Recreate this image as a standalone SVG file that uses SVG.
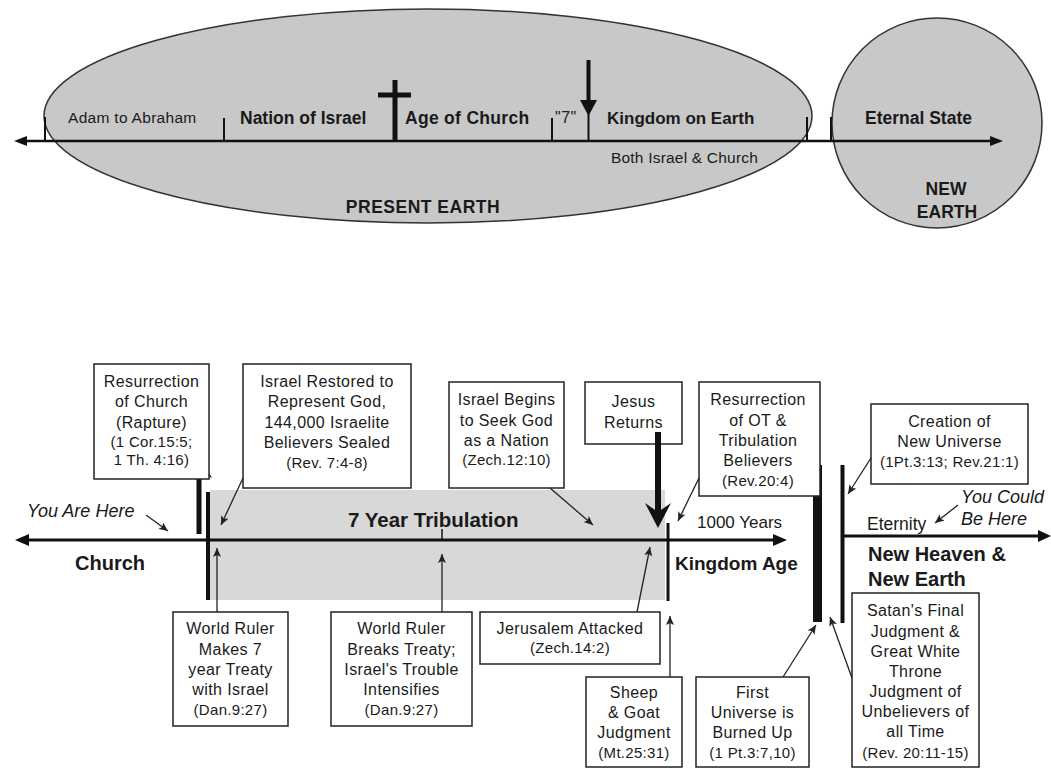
<svg xmlns="http://www.w3.org/2000/svg" width="1051" height="769" viewBox="0 0 1051 769">
<style>
text{font-family:"Liberation Sans",Arial,sans-serif;fill:#1a1a1a}
.b{font-weight:bold}
.box{fill:#fff;stroke:#222;stroke-width:1.5}
.t{font-size:16px;letter-spacing:0.4px;text-anchor:middle}
.r{font-size:15px;letter-spacing:0.3px;text-anchor:middle}
.ptr{stroke:#222;stroke-width:1.3;fill:none;marker-end:url(#ah)}
.ax{stroke:#111;stroke-width:2.5}
.tick{stroke:#111;stroke-width:2}
.it{font-style:italic;font-size:18px}
</style>
<defs>
<marker id="ah" markerUnits="userSpaceOnUse" markerWidth="10" markerHeight="8" refX="9" refY="4" orient="auto">
<path d="M0,0 L9,4 L0,8 L2,4 Z" fill="#222"/>
</marker>
</defs>
<rect width="1051" height="769" fill="#fff"/>

<!-- TOP SECTION -->
<g id="present-earth">
<ellipse cx="428" cy="116" rx="384" ry="107" fill="#c8c8c8" stroke="#333" stroke-width="1.5"/>
<text x="423" y="213" class="b" font-size="17.5" text-anchor="middle" letter-spacing="0.5">PRESENT EARTH</text>
</g>
<g id="new-earth">
<circle cx="937" cy="123" r="105" fill="#c8c8c8" stroke="#333" stroke-width="1.5"/>
<text x="946" y="195" class="b" font-size="17.5" text-anchor="middle">NEW</text>
<text x="947" y="218" class="b" font-size="17.5" text-anchor="middle">EARTH</text>
</g>
<g id="top-timeline">
<line x1="24" y1="141" x2="992" y2="141" class="ax"/>
<polygon points="14,141 27,136 27,146" fill="#111"/>
<polygon points="1003,141 990,136 990,146" fill="#111"/>
<line x1="45" y1="117" x2="45" y2="141" class="tick"/>
<line x1="224" y1="118" x2="224" y2="141" class="tick"/>
<line x1="552" y1="118" x2="552" y2="141" class="tick"/>
<line x1="807" y1="117" x2="807" y2="141" class="tick"/>
<line x1="831" y1="117" x2="831" y2="141" class="tick"/>
</g>
<g id="cross">
<rect x="392.5" y="80" width="5" height="61" fill="#111"/>
<rect x="378" y="92.5" width="33" height="5" fill="#111"/>
</g>
<g id="second-coming-top">
<rect x="586.5" y="60" width="4" height="42" fill="#111"/>
<polygon points="580,100 597,100 588.5,116" fill="#111"/>
<line x1="588.5" y1="114" x2="588.5" y2="141" class="tick"/>
</g>
<g id="top-labels">
<text x="68" y="123" font-size="15.5" letter-spacing="0.3">Adam to Abraham</text>
<text x="240" y="124" class="b" font-size="17.5">Nation of Israel</text>
<text x="405" y="124" class="b" font-size="17.5" letter-spacing="0.3">Age of Church</text>
<text x="555" y="123" font-size="16" letter-spacing="0.5">"7"</text>
<text x="607" y="124" class="b" font-size="17">Kingdom on Earth</text>
<text x="611" y="163" font-size="15.5" letter-spacing="0.2">Both Israel &amp; Church</text>
<text x="865" y="124" class="b" font-size="17.5">Eternal State</text>
</g>

<!-- BOTTOM SECTION -->
<g id="tribulation-band">
<rect x="210" y="490" width="455" height="110" fill="#d8d8d8"/>
<text x="348" y="527" class="b" font-size="20.5">7 Year Tribulation</text>
</g>
<g id="bottom-timeline">
<line x1="25" y1="540" x2="776" y2="540" stroke="#111" stroke-width="3"/>
<polygon points="15,540 29,534 29,546" fill="#111"/>
<polygon points="787,540 773,534 773,546" fill="#111"/>
<line x1="843" y1="536" x2="1040" y2="536" stroke="#111" stroke-width="3"/>
<polygon points="1051,536 1038,530 1038,542" fill="#111"/>
<rect x="206" y="492" width="4" height="108" fill="#111"/>
<rect x="666.5" y="523" width="3" height="78" fill="#111"/>
<rect x="813" y="465" width="9" height="157" fill="#111"/>
<rect x="840.5" y="465" width="4" height="158" fill="#111"/>
<line x1="442" y1="529" x2="442" y2="540" stroke="#111" stroke-width="1.5"/>
</g>
<g id="bottom-labels">
<text x="75" y="570" class="b" font-size="20">Church</text>
<text x="675" y="570" class="b" font-size="19">Kingdom Age</text>
<text x="697" y="528" font-size="17">1000 Years</text>
<text x="867" y="530" font-size="17.5">Eternity</text>
<text x="868" y="561" class="b" font-size="20">New Heaven &amp;</text>
<text x="868" y="586" class="b" font-size="20">New Earth</text>
<text x="27" y="517" class="it">You Are Here</text>
<text x="961" y="503" class="it">You Could</text>
<text x="961" y="525" class="it">Be Here</text>
</g>

<g id="rapture">
<rect x="196.5" y="470" width="5" height="64" fill="#111"/>
<polygon points="199,456 212,478 199,471 186,478" fill="#111"/>
</g>

<g id="n-resurrection-church">
<rect x="94" y="364" width="115" height="115" class="box"/>
<text x="151.5" y="387" class="t">Resurrection</text>
<text x="151.5" y="407" class="t">of Church</text>
<text x="151.5" y="428" class="t">(Rapture)</text>
<text x="151.5" y="447" class="r">(1 Cor.15:5;</text>
<text x="151.5" y="465" class="r">1 Th. 4:16)</text>
</g>
<g id="n-israel-restored">
<rect x="243" y="364" width="168" height="124" class="box"/>
<text x="327" y="387" class="t">Israel Restored to</text>
<text x="327" y="407" class="t">Represent God,</text>
<text x="327" y="428" class="t">144,000 Israelite</text>
<text x="327" y="448" class="t">Believers Sealed</text>
<text x="327" y="468" class="r">(Rev. 7:4-8)</text>
</g>
<g id="n-israel-begins">
<rect x="449" y="382" width="115" height="106" class="box"/>
<text x="506.5" y="405" class="t">Israel Begins</text>
<text x="506.5" y="426" class="t">to Seek God</text>
<text x="506.5" y="446" class="t">as a Nation</text>
<text x="506.5" y="465" class="r">(Zech.12:10)</text>
</g>
<g id="n-jesus-returns">
<rect x="585" y="382" width="97" height="62" class="box"/>
<text x="633.5" y="407" class="t">Jesus</text>
<text x="633.5" y="428" class="t">Returns</text>
</g>
<g id="second-coming">
<rect x="655" y="432" width="6" height="80" fill="#111"/>
<polygon points="658,528 645,503 658,512 671,503" fill="#111"/>
</g>
<g id="n-resurrection-ot">
<rect x="699" y="382" width="121" height="114" class="box"/>
<text x="758" y="405" class="t">Resurrection</text>
<text x="758" y="426" class="t">of OT &amp;</text>
<text x="758" y="446" class="t">Tribulation</text>
<text x="758" y="466" class="t">Believers</text>
<text x="758" y="486" class="r">(Rev.20:4)</text>
</g>
<g id="n-creation">
<rect x="871" y="404" width="157" height="80" class="box"/>
<text x="949.5" y="427" class="t">Creation of</text>
<text x="949.5" y="447" class="t">New Universe</text>
<text x="949.5" y="467" class="r">(1Pt.3:13; Rev.21:1)</text>
</g>
<g id="n-treaty">
<rect x="173" y="612" width="115" height="114" class="box"/>
<text x="230.5" y="634" class="t">World Ruler</text>
<text x="230.5" y="655" class="t">Makes 7</text>
<text x="230.5" y="675" class="t">year Treaty</text>
<text x="230.5" y="695" class="t">with Israel</text>
<text x="230.5" y="715" class="r">(Dan.9:27)</text>
</g>
<g id="n-breaks-treaty">
<rect x="331" y="612" width="141" height="114" class="box"/>
<text x="401.5" y="634" class="t">World Ruler</text>
<text x="401.5" y="655" class="t">Breaks Treaty;</text>
<text x="401.5" y="675" class="t">Israel's Trouble</text>
<text x="401.5" y="695" class="t">Intensifies</text>
<text x="401.5" y="715" class="r">(Dan.9:27)</text>
</g>
<g id="n-jerusalem">
<rect x="480" y="612" width="180" height="52" class="box"/>
<text x="570" y="634" class="t">Jerusalem Attacked</text>
<text x="570" y="653" class="r">(Zech.14:2)</text>
</g>
<g id="n-sheep-goat">
<rect x="586" y="677" width="96" height="90" class="box"/>
<text x="634" y="698" class="t">Sheep</text>
<text x="634" y="718" class="t">&amp; Goat</text>
<text x="634" y="738" class="t">Judgment</text>
<text x="634" y="758" class="r">(Mt.25:31)</text>
</g>
<g id="n-first-universe">
<rect x="696" y="677" width="113" height="90" class="box"/>
<text x="752.5" y="698" class="t">First</text>
<text x="752.5" y="718" class="t">Universe is</text>
<text x="752.5" y="738" class="t">Burned Up</text>
<text x="752.5" y="758" class="r">(1 Pt.3:7,10)</text>
</g>
<g id="n-satan">
<rect x="852" y="593" width="127" height="174" class="box"/>
<text x="915.5" y="616" class="t">Satan's Final</text>
<text x="915.5" y="637" class="t">Judgment &amp;</text>
<text x="915.5" y="657" class="t">Great White</text>
<text x="915.5" y="677" class="t">Throne</text>
<text x="915.5" y="697" class="t">Judgment of</text>
<text x="915.5" y="717" class="t">Unbelievers of</text>
<text x="915.5" y="737" class="t">all Time</text>
<text x="915.5" y="758" class="r">(Rev. 20:11-15)</text>
</g>

<g id="connectors">
<line x1="146" y1="515" x2="168" y2="531" class="ptr"/>
<line x1="243" y1="478" x2="221" y2="525" class="ptr"/>
<line x1="550" y1="488" x2="593" y2="525" class="ptr"/>
<line x1="699" y1="478" x2="678" y2="521" class="ptr"/>
<line x1="871" y1="458" x2="848" y2="494" class="ptr"/>
<line x1="958" y1="505" x2="935" y2="523" class="ptr"/>
<line x1="217" y1="612" x2="217" y2="548" class="ptr"/>
<line x1="442" y1="612" x2="442" y2="554" class="ptr"/>
<line x1="637" y1="612" x2="650" y2="547" class="ptr"/>
<line x1="670" y1="677" x2="670" y2="616" class="ptr"/>
<line x1="783" y1="677" x2="816" y2="625" class="ptr"/>
<line x1="852" y1="678" x2="830" y2="617" class="ptr"/>
</g>
</svg>
